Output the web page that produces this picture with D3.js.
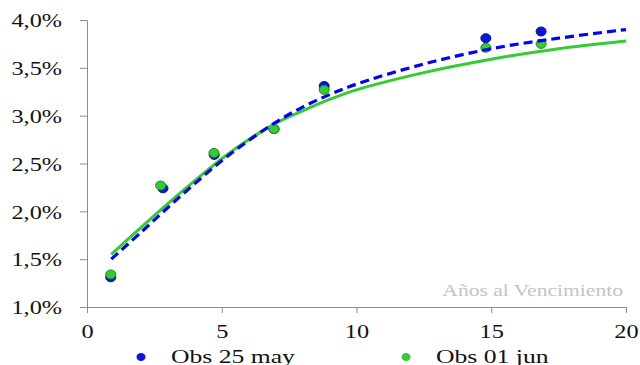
<!DOCTYPE html>
<html>
<head>
<meta charset="utf-8">
<script src="https://cdn.jsdelivr.net/npm/d3@7"></script>
<style>
  body { margin: 0; background: #fff; }
  svg text { font-family: "Liberation Serif", "Times New Roman", Times, serif !important; }
  .axis path, .axis line { stroke: #8c8c8c; }
</style>
</head>
<body>
<svg id="chart" width="640" height="365"></svg>
<script>
// observed yields (years, %)
var obsMayX = [0.88, 2.82, 4.72, 6.94, 8.8, 14.8, 16.85];
var obsMayY = [1.31, 2.24, 2.59, 2.86, 3.31, 3.81, 3.88];
var obsJunX = [0.88, 2.73, 4.71, 6.94, 8.8, 14.8, 16.85];
var obsJunY = [1.34, 2.27, 2.61, 2.86, 3.27, 3.71, 3.75];

// fitted curves
var curveX    = [0.9, 2, 3, 4, 5, 6, 7, 8, 9, 10, 12.5, 15, 17.5, 20];
var curveMayY = [1.50, 1.78, 2.04, 2.29, 2.53, 2.74, 2.93, 3.09, 3.22, 3.33, 3.54, 3.70, 3.81, 3.90];
var curveJunY = [1.55, 1.83, 2.08, 2.32, 2.55, 2.75, 2.92, 3.05, 3.17, 3.27, 3.45, 3.59, 3.70, 3.78];

var xTicks = [0, 5, 10, 15, 20];
var yTicks = [1.0, 1.5, 2.0, 2.5, 3.0, 3.5, 4.0];
var legendLabels = ["Obs 25 may", "Obs 01 jun"];

var blue = "#0000ff", green = "#33cc33";
var sx = 1.35; // text in the picture is stretched horizontally

var svg = d3.select("#chart");

var x = d3.scaleLinear().domain([0, 20]).range([87, 626]);
var y = d3.scaleLinear().domain([1.0, 4.0]).range([307, 20]);

var fmt = function(d) { return d.toFixed(1).replace(".", ",") + "%"; };

var yAxis = svg.append("g")
    .attr("class", "axis")
    .attr("transform", "translate(" + x(0) + ",0)")
    .call(d3.axisLeft(y).tickValues(yTicks).tickFormat(fmt).tickSize(7).tickSizeOuter(0));
yAxis.attr("font-family", null);
yAxis.selectAll("text")
    .attr("x", -25 / sx)
    .attr("dy", "0.37em")
    .attr("transform", "scale(" + sx + ",1)")
    .style("font-size", "18px").attr("fill", "#111");

var xAxis = svg.append("g")
    .attr("class", "axis")
    .attr("transform", "translate(0," + y(1.0) + ")")
    .call(d3.axisBottom(x).tickValues(xTicks).tickFormat(d3.format("d")).tickSize(6).tickSizeOuter(0).tickPadding(12));
xAxis.attr("font-family", null);
xAxis.selectAll("text")
    .attr("transform", "scale(" + sx + ",1)")
    .style("font-size", "18px").attr("fill", "#111");
svg.selectAll(".axis .domain").attr("stroke", "#8c8c8c");

svg.append("text")
    .attr("transform", "translate(623,296) scale(" + sx + ",1)")
    .attr("text-anchor", "end")
    .style("font-size", "16px")
    .attr("fill", "#c4c4c4")
    .text("Años al Vencimiento");

function pts(xs, ys) { return xs.map(function(v, i) { return [v, ys[i]]; }); }

var line = d3.line()
    .x(function(d) { return x(d[0]); })
    .y(function(d) { return y(d[1]); })
    .curve(d3.curveCatmullRom);

function dots(data, fill, stroke) {
  svg.append("g").selectAll("ellipse")
    .data(data).enter().append("ellipse")
    .attr("cx", function(d) { return x(d[0]); })
    .attr("cy", function(d) { return y(d[1]); })
    .attr("rx", 5).attr("ry", 4.5)
    .attr("fill", fill).attr("stroke", stroke).attr("stroke-width", 1);
}

dots(pts(obsMayX, obsMayY), "#0a14e6", "#0a1a6e");
dots(pts(obsJunX, obsJunY), green, "#1f8a1f");

svg.append("path")
    .datum(pts(curveX, curveJunY))
    .attr("fill", "none").attr("stroke", green).attr("stroke-width", 3)
    .attr("d", line);

svg.append("path")
    .datum(pts(curveX, curveMayY))
    .attr("fill", "none").attr("stroke", blue).attr("stroke-width", 3.2)
    .attr("stroke-dasharray", "9,5")
    .attr("d", line);

// legend
var legend = svg.append("g");
var legendPos = [141, 406];
legendLabels.forEach(function(lbl, i) {
  legend.append("ellipse")
    .attr("cx", legendPos[i]).attr("cy", 357)
    .attr("rx", 4.5).attr("ry", 4)
    .attr("fill", i === 0 ? "#0a14e6" : green);
  legend.append("text")
    .attr("transform", "translate(" + (legendPos[i] + 30) + ",363) scale(" + sx + ",1)")
    .style("font-size", "19px")
    .attr("fill", "#111")
    .text(lbl);
});
</script>
</body>
</html>
